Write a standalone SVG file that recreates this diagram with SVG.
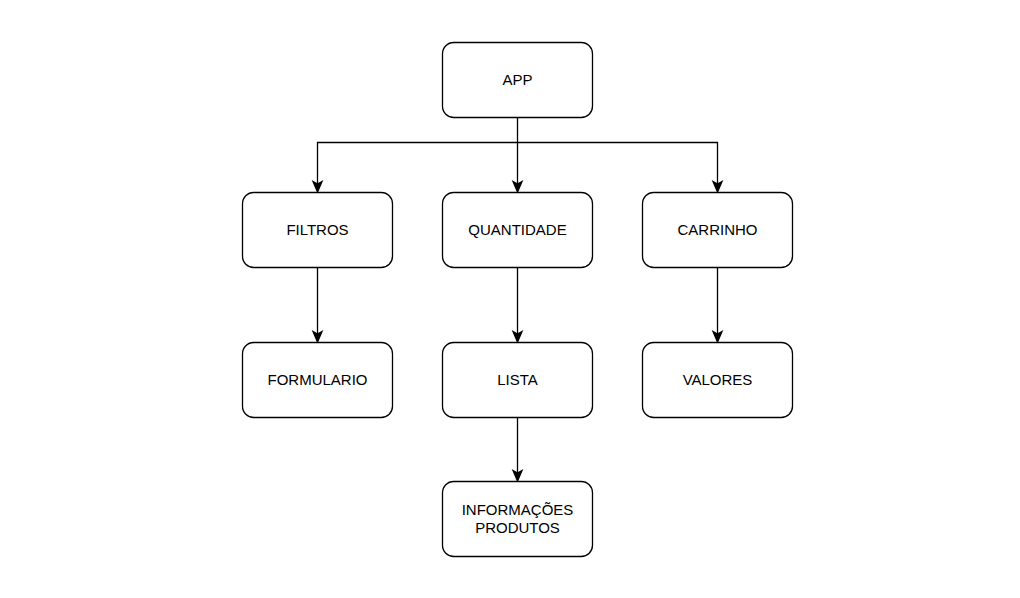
<svg xmlns="http://www.w3.org/2000/svg" width="1020" height="598" viewBox="0 0 1020 598">
<style>
.box{fill:#ffffff;stroke:#000000;stroke-width:1.3}
.t{font-family:"Liberation Sans",Arial,sans-serif;font-size:15px;fill:#000000;text-anchor:middle}
.c{fill:none;stroke:#000000;stroke-width:1.3}
.ah{fill:#000000;stroke:#000000;stroke-width:1.3;stroke-linejoin:miter}
</style>
<rect width="1020" height="598" fill="#ffffff"/>
<g id="connectors">
<path class="c" d="M517.5 117.5 V184"/>
<path class="c" d="M517.5 142.5 H317.5 V184"/>
<path class="c" d="M517.5 142.5 H717.5 V184"/>
<path class="c" d="M317.5 267.5 V334"/>
<path class="c" d="M517.5 267.5 V334"/>
<path class="c" d="M717.5 267.5 V334"/>
<path class="c" d="M517.5 417.5 V473"/>
<path class="ah" d="M517.5 192 L513 181.5 L517.5 184 L522 181.5 Z"/>
<path class="ah" d="M317.5 192 L313 181.5 L317.5 184 L322 181.5 Z"/>
<path class="ah" d="M717.5 192 L713 181.5 L717.5 184 L722 181.5 Z"/>
<path class="ah" d="M317.5 342 L313 331.5 L317.5 334 L322 331.5 Z"/>
<path class="ah" d="M517.5 342 L513 331.5 L517.5 334 L522 331.5 Z"/>
<path class="ah" d="M717.5 342 L713 331.5 L717.5 334 L722 331.5 Z"/>
<path class="ah" d="M517.5 481 L513 470.5 L517.5 473 L522 470.5 Z"/>
</g>
<g id="app"><rect class="box" x="442.5" y="42.5" width="150" height="75" rx="11.25"/><text class="t" x="517.5" y="85">APP</text></g>
<g id="filtros"><rect class="box" x="242.5" y="192.5" width="150" height="75" rx="11.25"/><text class="t" x="317.5" y="235">FILTROS</text></g>
<g id="quantidade"><rect class="box" x="442.5" y="192.5" width="150" height="75" rx="11.25"/><text class="t" x="517.5" y="235">QUANTIDADE</text></g>
<g id="carrinho"><rect class="box" x="642.5" y="192.5" width="150" height="75" rx="11.25"/><text class="t" x="717.5" y="235">CARRINHO</text></g>
<g id="formulario"><rect class="box" x="242.5" y="342.5" width="150" height="75" rx="11.25"/><text class="t" x="317.5" y="385">FORMULARIO</text></g>
<g id="lista"><rect class="box" x="442.5" y="342.5" width="150" height="75" rx="11.25"/><text class="t" x="517.5" y="385">LISTA</text></g>
<g id="valores"><rect class="box" x="642.5" y="342.5" width="150" height="75" rx="11.25"/><text class="t" x="717.5" y="385">VALORES</text></g>
<g id="informacoes"><rect class="box" x="442.5" y="481.5" width="150" height="75" rx="11.25"/><text class="t" x="517.5" y="515">INFORMAÇÕES</text><text class="t" x="517.5" y="533">PRODUTOS</text></g>
</svg>
